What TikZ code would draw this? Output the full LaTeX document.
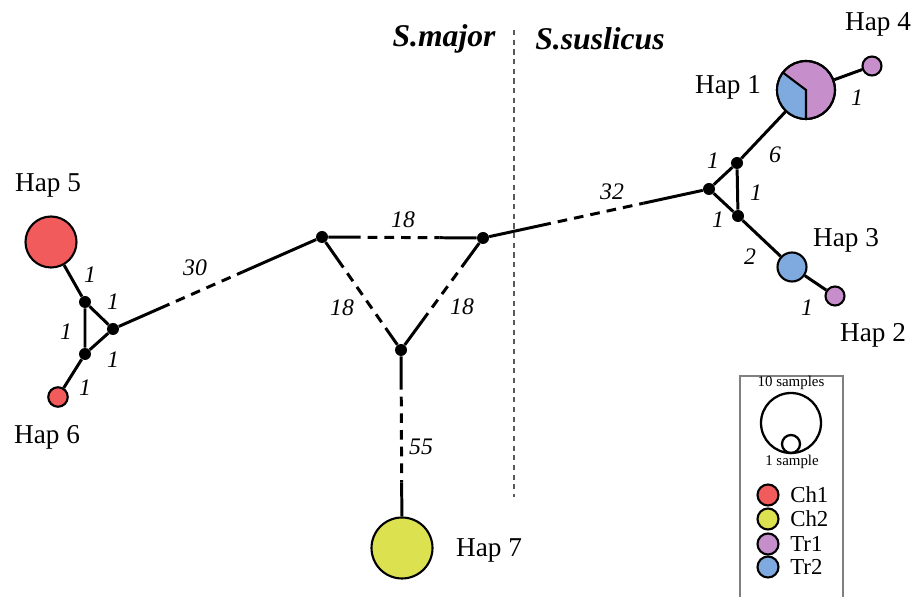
\documentclass[tikz,border=0pt]{standalone}
\usepackage{fontspec}
\setmainfont{Liberation Serif}
\usetikzlibrary{calc,positioning}
\definecolor{colCh1}{HTML}{F15B5B}
\definecolor{colCh2}{HTML}{DCE24F}
\definecolor{colTr1}{HTML}{C68FCB}
\definecolor{colTr2}{HTML}{7FAAE0}
\begin{document}
\begin{tikzpicture}[x=0.02cm, y=-0.02cm,
      hap/.style={circle, draw, line width=1.2pt, fill=#1, inner sep=0pt},
      mv/.style={circle, fill=black, inner sep=0pt, minimum size=0.24cm},
      ln/.style={line width=1.7pt},
      dsh/.style={line width=1.7pt, dash pattern=on 5.5pt off 4pt, dash phase=5.5pt},
      num/.style={font=\itshape\fontsize{13.5}{14}\selectfont},
      hl/.style={font=\fontsize{15.5}{16}\selectfont},
      every node/.style={align=center}]
    \useasboundingbox (0,0) rectangle (913,597);
    % haplotypes
    \node[hap=colCh1, minimum size=1.02cm] (hap5) at (51,242) {};
    \node[hap=colCh1, minimum size=0.39cm] (hap6) at (58,397) {};
    \node[hap=colCh2, minimum size=1.22cm] (hap7) at (402,548) {};
    \node[hap=colTr1, minimum size=1.16cm] (hap1) at (806,90) {};
    \node[hap=colTr1, minimum size=0.38cm] (hap4) at (872,66) {};
    \node[hap=colTr2, minimum size=0.58cm] (hap3) at (792,267) {};
    \node[hap=colTr1, minimum size=0.38cm] (hap2) at (835,296) {};
    \fill[colTr2] (hap1.center) -- ++(143:0.58cm) arc[start angle=143, end angle=270, radius=0.58cm] -- cycle;
    \draw[line width=1.2pt] ($(hap1.center)+(143:0.58cm)$) -- (hap1.center) -- ++(270:0.58cm);
    \draw[line width=1.2pt] (hap1.center) circle[radius=0.58cm];
    % median vectors
    \node[mv] (a1) at (85,302) {};
    \node[mv] (a2) at (113,329) {};
    \node[mv] (a3) at (85,354) {};
    \node[mv] (m1) at (322,237) {};
    \node[mv] (m2) at (483,238) {};
    \node[mv] (m3) at (401,350) {};
    \node[mv] (r1) at (709,189) {};
    \node[mv] (r2) at (737,163) {};
    \node[mv] (r3) at (738,216) {};
    % short links
    \draw[ln] (hap5) -- (a1) -- (a3) -- (hap6);
    \draw[ln] (a1) -- (a2) -- (a3);
    \draw[ln] (hap1) -- (r2) -- (r1) -- (r3) -- (hap3) -- (hap2);
    \draw[ln] (r2) -- (r3);
    \draw[ln] (hap1) -- (hap4);
    % long links, dashed in the middle
    \foreach \u/\v/\s/\t in {a2/m1/0.27/0.62, m1/m2/0.24/0.73, m1/m3/0.27/0.82,
                              m2/m3/0.26/0.74, m2/r1/0.30/0.71, m3/hap7/0.20/0.67}{
      \draw[ln] (\u) -- ($(\u)!\s!(\v)$);
      \draw[dsh] ($(\u)!\s!(\v)$) -- ($(\u)!\t!(\v)$);
      \draw[ln] ($(\u)!\t!(\v)$) -- (\v);
    }
    % mutation counts
    \node[num] at (90,275) {1};
    \node[num] at (113,302) {1};
    \node[num] at (66,332) {1};
    \node[num] at (113,360) {1};
    \node[num] at (85,388) {1};
    \node[num] at (195,268) {30};
    \node[num] at (403,220) {18};
    \node[num] at (342,308) {18};
    \node[num] at (462,307) {18};
    \node[num] at (421,447) {55};
    \node[num] at (612,192) {32};
    \node[num] at (713,161) {1};
    \node[num] at (775,155) {6};
    \node[num] at (756,193) {1};
    \node[num] at (718,220) {1};
    \node[num] at (750,257) {2};
    \node[num] at (807,308) {1};
    \node[num] at (857,98) {1};
    % haplotype names
    \node[hl] at (48,185) {Hap 5};
    \node[hl] at (47,437) {Hap 6};
    \node[hl] at (489,550) {Hap 7};
    \node[hl] at (728,87) {Hap 1};
    \node[hl] at (878,24) {Hap 4};
    \node[hl] at (846,240) {Hap 3};
    \node[hl] at (873,335) {Hap 2};
    % species split
    \draw[gray!70!black, line width=0.6pt, dash pattern=on 3pt off 2.5pt] (514,30) -- (514,497);
    \node[font=\bfseries\itshape\fontsize{18}{18}\selectfont] (smaj) at (444,39) {S.major};
    \node[font=\bfseries\itshape\fontsize{18}{18}\selectfont] (ssus) at (600,39) {S.suslicus};
    % legend
    \draw[gray, line width=0.6pt] (740,597) -- (740,376) -- (843,376) -- (843,597);
    \node[font=\fontsize{8.5}{9}\selectfont] (l10) at (791,383) {10 samples};
    \node[circle, draw, line width=1.3pt, minimum size=1.2cm, inner sep=0pt] (big) at (791,423) {};
    \node[circle, draw, line width=1.3pt, minimum size=0.36cm, inner sep=0pt] (small) at (791,444) {};
    \node[font=\fontsize{8.5}{9}\selectfont] (l1) at (792,462) {1 sample};
    \foreach \c/\t/\y in {colCh1/Ch1/495, colCh2/Ch2/519, colTr1/Tr1/544, colTr2/Tr2/567}{
      \node[hap=\c, minimum size=0.42cm] (k\t) at (768,\y) {};
      \node[right=0.09cm of k\t, font=\fontsize{13}{13}\selectfont] {\t};
    }
  \end{tikzpicture}
\end{document}
